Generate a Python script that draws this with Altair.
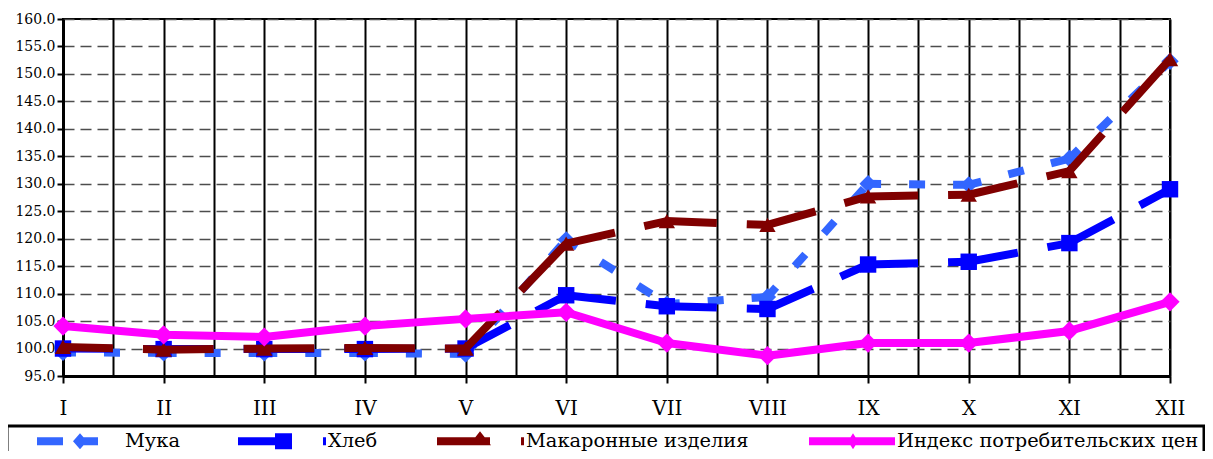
import altair as alt
import pandas as pd

# ---------------- data ----------------
MONTHS = ["I", "II", "III", "IV", "V", "VI", "VII", "VIII", "IX", "X", "XI", "XII"]
SERIES = ["Мука", "Хлеб", "Макаронные изделия", "Индекс потребительских цен"]

MUKA = [99.3, 99.2, 99.2, 99.2, 99.0, 119.8, 108.1, 109.4, 130.0, 129.8, 134.6, 152.3]
HLEB = [100.0, 99.9, 99.9, 99.9, 100.0, 109.7, 107.7, 107.2, 115.3, 115.8, 119.2, 129.0]
MAKARONY = [100.3, 99.8, 100.0, 100.1, 100.0, 119.1, 123.2, 122.5, 127.7, 128.0, 132.3, 152.7]
CPI = [104.1, 102.5, 102.1, 104.1, 105.4, 106.6, 101.0, 98.7, 101.0, 101.0, 103.2, 108.5]

COLORS = ["#3366FF", "#0000FF", "#800000", "#FF00FF"]
Y_TICKS = [95.0, 100.0, 105.0, 110.0, 115.0, 120.0, 125.0, 130.0, 135.0, 140.0, 145.0, 150.0, 155.0, 160.0]

VALUES = dict(zip(SERIES, [MUKA, HLEB, MAKARONY, CPI]))

# point table
points = pd.DataFrame(
    [{"series": s, "month": i + 1, "value": v} for s in SERIES for i, v in enumerate(VALUES[s])]
)
# segment table (each line segment restarts its dash pattern, as in the original)
seg_rows = []
for s in SERIES:
    vals = VALUES[s]
    for k in range(len(vals) - 1):
        seg_rows.append({"series": s, "seg": f"{s}-{k}", "month": k + 1, "value": vals[k]})
        seg_rows.append({"series": s, "seg": f"{s}-{k}", "month": k + 2, "value": vals[k + 1]})
segments = pd.DataFrame(seg_rows)

# ---------------- styling ----------------
FONT = "DejaVu Serif"
half_steps = [1 + 0.5 * i for i in range(2 * len(MONTHS) - 1)]
month_js = "[" + ",".join(f"'{m}'" for m in MONTHS) + "]"

x_enc = alt.X(
    "month:Q",
    title=None,
    scale=alt.Scale(domain=[1, len(MONTHS)], nice=False, zero=False),
    axis=alt.Axis(
        values=half_steps,
        labelExpr=f"datum.value % 1 == 0 ? {month_js}[datum.value - 1] : ''",
        labelFont=FONT, labelFontSize=20, labelColor="black", labelPadding=15,
        labelFlush=False, labelOverlap=False,
        tickSize=7, tickWidth=2, tickColor="black",
        tickOpacity={"condition": {"test": "datum.value % 1 != 0", "value": 0}, "value": 1},
        domainColor="black", domainWidth=3,
        grid=True, gridColor="black", gridWidth=2, gridOpacity=1,
    ),
)
y_enc = alt.Y(
    "value:Q",
    title=None,
    scale=alt.Scale(domain=[95, 160], nice=False, zero=False),
    axis=alt.Axis(
        values=Y_TICKS, format=".1f",
        labelFont=FONT, labelFontSize=14, labelColor="black", labelPadding=2,
        labelFlush=False, labelOverlap=False,
        tickSize=6, tickWidth=2, tickColor="black",
        domainColor="black", domainWidth=3,
        grid=True, gridColor="#4d4d4d", gridWidth=1.5, gridDash=[11, 6], gridOpacity=1,
    ),
)

LINE_STYLE = {
    "Мука": dict(strokeDash=[16, 28], strokeDashOffset=3),
    "Хлеб": dict(strokeDash=[50, 30, 2000]),
    "Макаронные изделия": dict(strokeDash=[50, 30, 2000]),
}
MARKERS = {
    "Мука": dict(shape="diamond", size=300),
    "Хлеб": dict(shape="square", size=270),
    "Макаронные изделия": dict(shape="triangle-up", size=270),
    "Индекс потребительских цен": dict(shape="diamond", size=370),
}

layers = []
for s, c in zip(SERIES, COLORS):
    if s in LINE_STYLE:
        line = alt.Chart(segments).transform_filter(alt.datum.series == s).mark_line(
            color=c, strokeWidth=8, strokeCap="butt", **LINE_STYLE[s]
        ).encode(x=x_enc, y=y_enc, detail="seg:N", order="month:Q")
    else:
        line = alt.Chart(points).transform_filter(alt.datum.series == s).mark_line(
            color=c, strokeWidth=8, strokeJoin="round"
        ).encode(x=x_enc, y=y_enc, order="month:Q")
    pts = alt.Chart(points).transform_filter(alt.datum.series == s).mark_point(
        filled=True, color=c, opacity=1, strokeWidth=0, **MARKERS[s]
    ).encode(x=x_enc, y=y_enc)
    layers += [line, pts]

# legend symbols (line + marker drawn as one custom path; unit = 10px)
ANCHOR = "M-1,0L-1,0Z "
LEGEND_PATHS = [
    ANCHOR + "M1.5,-0.4H4.1V0.4H1.5Z M5.1,0L5.8,-0.8L6.5,0L5.8,0.8Z M5.8,-0.4H7.6V0.4H5.8Z",
    ANCHOR + "M1.3,-0.4H6.7V0.4H1.3Z M5.0,-0.8H6.7V0.8H5.0Z M9.8,-0.4H10.1V0.4H9.8Z",
    ANCHOR + "M1.4,-0.4H6.7V0.4H1.4Z M5.7,-1.0L6.8,0.4L4.6,0.4Z M9.8,-0.4H10.1V0.4H9.8Z",
    ANCHOR + "M1.5,-0.4H10.1V0.4H1.5Z M5.4,0L5.9,-0.8L6.4,0L5.9,0.8Z",
]
legend = alt.Legend(
    title=None, orient="none", legendX=-56, legendY=407, direction="horizontal", columns=4,
    symbolSize=400, symbolStrokeWidth=0, symbolOpacity=1,
    labelFont=FONT, labelFontSize=19.4, labelColor="black", labelOffset=93, labelLimit=0,
    columnPadding=35, padding=5, strokeColor="black",
)
legend_layer = alt.Chart(points).transform_filter("false").mark_point(filled=True, opacity=1).encode(
    x=x_enc, y=y_enc,
    color=alt.Color("series:N", scale=alt.Scale(domain=SERIES, range=COLORS), legend=legend),
    shape=alt.Shape("series:N", scale=alt.Scale(domain=SERIES, range=LEGEND_PATHS), legend=legend),
)
layers.append(legend_layer)

chart = alt.layer(*layers).properties(
    width=1107, height=357,
    autosize=alt.AutoSizeParams(type="none"),
    padding={"left": 55, "top": 11, "right": 35, "bottom": 75},
).configure_view(stroke="black", strokeWidth=2).configure_legend(strokeWidth=3)

chart.save("out.html", embed_options={"renderer": "svg", "actions": False})
